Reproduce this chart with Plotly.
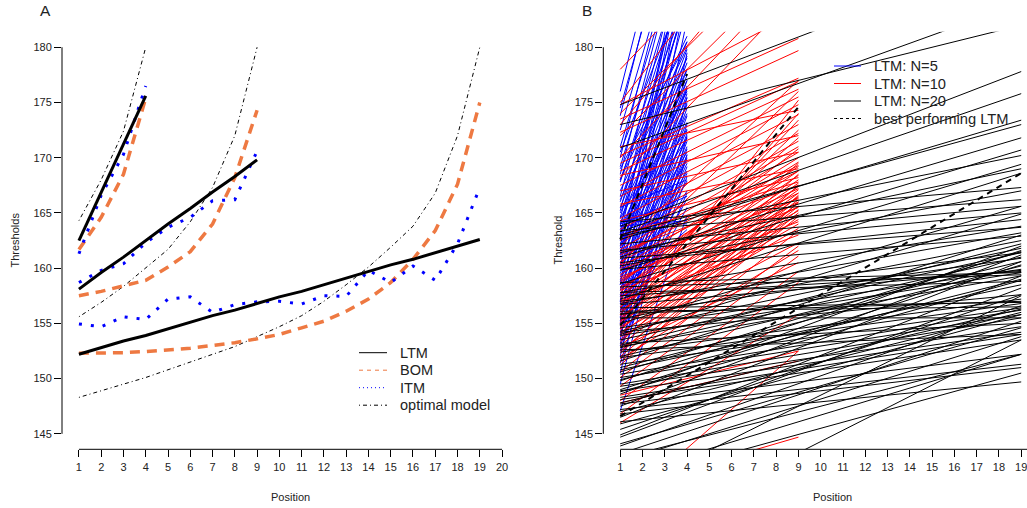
import plotly.graph_objects as go

# ---------------- Panel A data ----------------
pos4 = [1, 2, 3, 4]
pos9 = [1, 2, 3, 4, 5, 6, 7, 8, 9]
pos19 = list(range(1, 20))

ltm4 = [162.5, 166.9, 171.2, 175.6]
bom4 = [161.7, 164.6, 168.5, 175.4]
itm4 = [161.3, 166.6, 170.3, 176.5]
opt4 = [164.3, 168.0, 172.4, 180.0]

ltm9 = [158.1, 159.6, 161.0, 162.5, 164.0, 165.4, 166.9, 168.3, 169.8]
bom9 = [157.5, 157.9, 158.4, 158.9, 160.1, 161.5, 164.0, 168.2, 174.3]
itm9 = [158.7, 159.8, 160.4, 162.3, 163.7, 164.6, 166.1, 166.2, 170.6]
opt9 = [155.6, 156.9, 158.35, 160.0, 161.7, 164.2, 167.3, 172.0, 180.0]

ltm19 = [152.2, 152.8, 153.4, 153.9, 154.5, 155.1, 155.7, 156.2, 156.8, 157.4,
         157.9, 158.5, 159.1, 159.7, 160.3, 160.8, 161.4, 162.0, 162.6]
bom19 = [152.3, 152.3, 152.35, 152.45, 152.6, 152.75, 153.0, 153.25, 153.6, 154.0,
         154.6, 155.2, 156.1, 157.2, 158.7, 160.8, 163.4, 167.6, 175.0]
itm19 = [154.95, 154.7, 155.6, 155.35, 157.2, 157.4, 156.0, 156.7, 156.95, 157.0,
         156.75, 157.5, 157.45, 159.8, 158.7, 160.2, 158.9, 162.2, 167.3]
opt19 = [148.3, 148.9, 149.5, 150.1, 150.8, 151.5, 152.2, 152.9, 153.8, 154.7,
         155.7, 157.0, 158.5, 160.1, 161.9, 163.8, 166.8, 172.0, 180.0]

# ---------------- Panel B data (threshold at first and last position) ----------------
end5, end10, end20 = 4, 9, 19

ltm5_start = [176.0, 174.5, 173.8, 172.5, 171.0, 170.0, 169.2, 168.5, 167.8, 166.5,
              165.2, 164.6, 163.8, 163.0, 162.0, 161.2, 166.0, 170.5, 168.0, 153.5,
              155.2, 157.0, 158.5, 160.0, 165.5, 164.0, 163.0, 162.5, 161.8, 161.0,
              160.2, 159.5, 158.8, 158.0, 157.4, 156.8, 156.0, 155.5, 155.0, 154.5,
              154.0, 153.2, 152.5, 163.5, 162.8, 162.2, 161.5, 160.8, 160.0, 159.2,
              158.5, 157.6, 157.0, 156.2, 155.6, 164.5, 165.0, 166.2, 163.2, 162.0,
              160.5, 159.0, 158.2, 157.2, 156.5, 155.0, 154.2, 153.0, 151.4, 147.1,
              149.5, 150.5, 152.0, 161.5, 164.0, 163.8, 164.3, 165.5, 158.0, 167.0,
              168.0, 169.0]
ltm5_end = [200.0, 196.0, 198.0, 193.0, 191.0, 194.0, 189.0, 192.0, 187.0, 190.0,
            188.0, 184.5, 186.5, 189.0, 185.0, 183.5, 184.0, 186.0, 184.5, 182.5,
            185.0, 188.0, 190.0, 192.0, 180.5, 179.8, 179.2, 178.6, 178.0, 177.5,
            177.0, 176.3, 175.8, 175.0, 174.5, 173.8, 173.0, 172.2, 171.5, 170.8,
            170.0, 169.2, 168.3, 177.0, 176.2, 175.4, 174.8, 174.0, 173.2, 172.5,
            171.8, 171.0, 170.2, 169.5, 168.6, 176.0, 178.0, 179.0, 172.6, 171.8,
            170.5, 169.8, 168.8, 167.9, 167.0, 166.3, 165.5, 166.8, 170.3, 164.8,
            172.0, 175.5, 179.5, 176.5, 166.5, 164.3, 164.0, 168.0, 163.5, 180.0,
            181.0, 180.5]

ltm10_start = [178.0, 175.0, 173.0, 174.8, 174.0, 172.0, 170.0, 168.2, 172.3, 173.5,
               170.2, 169.5, 168.8, 167.5, 166.5, 165.6, 164.5, 163.5, 162.5, 161.7,
               160.9, 160.0, 159.4, 158.8, 158.1, 157.6, 157.0, 156.5, 156.0, 155.5,
               155.0, 154.5, 154.0, 153.5, 153.0, 152.5, 152.0, 151.5, 159.8, 159.0,
               158.3, 157.4, 156.8, 156.2, 155.7, 155.2, 154.7, 154.2, 160.6, 161.2,
               158.6, 157.8, 157.2, 156.4, 155.8, 155.1, 160.4, 162.0, 150.6, 150.1,
               149.3, 148.0, 146.8, 146.0, 148.5, 147.8, 140.0, 138.4, 152.8, 151.8,
               153.8, 157.0, 158.0, 159.2, 160.3, 161.5, 163.0, 164.3, 165.8, 167.0,
               168.4, 171.0, 155.3, 154.4, 153.3, 152.3, 151.2]
ltm10_end = [194.8, 196.0, 192.0, 183.2, 190.0, 188.0, 187.0, 185.0, 179.7, 180.8,
             177.2, 176.9, 176.2, 175.5, 174.8, 173.9, 173.0, 172.2, 171.5, 171.0,
             170.5, 170.0, 169.6, 169.2, 168.8, 168.4, 168.0, 167.7, 167.4, 167.1,
             166.8, 166.5, 166.2, 165.9, 165.6, 165.3, 165.0, 164.7, 167.2, 166.8,
             166.4, 166.0, 165.6, 165.2, 164.8, 164.4, 164.0, 163.6, 168.8, 169.3,
             170.8, 171.8, 172.5, 173.4, 174.0, 175.2, 176.0, 177.0, 163.4, 162.0,
             161.1, 159.7, 158.7, 155.8, 152.5, 151.6, 144.7, 152.5, 160.5, 161.6,
             162.3, 163.0, 164.2, 165.5, 166.3, 167.5, 167.8, 168.2, 169.0, 170.5,
             172.0, 174.3, 169.5, 168.5, 167.5, 166.6, 166.0]

ltm20_start = [174.8, 173.0, 170.9, 163.8, 163.3, 162.6, 163.0, 161.0, 159.8, 158.6,
               157.2, 164.2, 163.4, 162.2, 161.6, 160.5, 157.8, 156.8, 155.4, 154.3,
               153.5, 152.8, 152.0, 158.7, 157.8, 158.3, 157.5, 156.4, 155.5, 156.1,
               155.9, 154.6, 153.9, 152.9, 152.4, 151.9, 151.3, 150.4, 150.1, 149.5,
               149.3, 148.9, 148.3, 148.1, 147.7, 147.2, 146.8, 146.1, 146.5, 147.5,
               148.6, 149.8, 151.0, 144.9, 144.7, 143.9, 143.2, 142.5, 141.2, 135.1,
               139.5, 160.9, 159.9, 160.2, 161.4, 162.9, 155.0, 154.0, 151.6, 150.6,
               149.0, 145.4, 144.1, 147.8, 152.6, 153.2, 156.7, 157.0, 155.8, 154.2,
               150.8, 148.8, 140.5, 142.8, 145.9, 147.0, 149.9, 153.0]
ltm20_end = [188.6, 182.0, 184.0, 177.8, 175.8, 173.4, 173.0, 171.8, 170.7, 169.4,
             168.6, 167.3, 166.2, 165.6, 165.0, 164.4, 163.8, 163.2, 162.5, 161.8,
             161.4, 161.0, 160.6, 159.6, 158.8, 159.4, 159.7, 156.9, 155.5, 156.5,
             157.0, 159.9, 159.6, 159.3, 157.2, 156.8, 156.4, 156.2, 155.8, 155.5,
             154.7, 154.2, 154.0, 153.5, 152.2, 151.3, 151.0, 149.7, 160.6, 161.2,
             162.0, 161.6, 160.2, 159.3, 158.2, 156.6, 155.2, 153.8, 152.2, 153.5,
             157.5, 163.7, 162.9, 167.0, 169.0, 170.2, 165.6, 164.9, 163.0, 161.5,
             160.3, 157.6, 154.6, 156.3, 154.0, 155.0, 159.8, 161.4, 160.9, 157.6,
             158.5, 158.9, 150.5, 152.2, 155.8, 156.0, 159.0, 162.2]

best_pos5, best5 = [1, 4], [162.6, 177.6]
best_pos10, best10 = [1, 9], [154.8, 174.6]
best_pos20, best20 = [1, 19], [146.6, 168.6]

y_ticks = [145, 150, 155, 160, 165, 170, 175, 180]
x_ticks = list(range(1, 21))

legend_a = ["LTM", "BOM", "ITM", "optimal model"]
legend_b = ["LTM: N=5", "LTM: N=10", "LTM: N=20", "best performing LTM"]

# ---------------- styling ----------------
W, H = 1027, 508
FONT = "Liberation Sans, Arial, Helvetica, sans-serif"
ORANGE = "#EE7942"
BLUE = "#0000FF"
RED = "#FF0000"

fig = go.Figure()


def line(x, y, color, width, dash, xa="x", ya="y"):
    fig.add_trace(go.Scatter(x=x, y=y, mode="lines", xaxis=xa, yaxis=ya,
                             line=dict(color=color, width=width, dash=dash),
                             hoverinfo="skip", showlegend=False))


# Panel A
for pos, ltm, bom, itm, opt in [(pos4, ltm4, bom4, itm4, opt4),
                                (pos9, ltm9, bom9, itm9, opt9),
                                (pos19, ltm19, bom19, itm19, opt19)]:
    line(pos, opt, "black", 1, "1px,3px,4px,3px")
    line(pos, bom, ORANGE, 3.5, "10px,7px")
    line(pos, itm, BLUE, 3, "3px,9px")
    line(pos, ltm, "black", 3, "solid")


# Panel B
def segs(starts, ends, last):
    xs, ys = [], []
    for s, e in zip(starts, ends):
        xs += [1, last, None]
        ys += [s, e, None]
    return xs, ys


for st, en, last, col in [(ltm5_start, ltm5_end, end5, BLUE),
                          (ltm10_start, ltm10_end, end10, RED),
                          (ltm20_start, ltm20_end, end20, "black")]:
    xs, ys = segs(st, en, last)
    line(xs, ys, col, 1, "solid", "x2", "y2")

for bp, bv in [(best_pos5, best5), (best_pos10, best10), (best_pos20, best20)]:
    line(bp, bv, "black", 2, "6px,5px", "x2", "y2")

# ---------------- layout ----------------
xA = [62 / W, 519 / W]
xB = [603.3 / W, 1.0]
ydom = [1 - 449.3 / H, 1 - 31.8 / H]
yr = [143.6, 181.4]

ax_common = dict(showgrid=False, zeroline=False, showline=False, ticks="outside",
                 ticklen=7, tickcolor="black", tickwidth=1, ticklabeloverflow="allow",
                 tickfont=dict(family=FONT, size=11, color="#222"), automargin=False)

fig.update_layout(
    width=W, height=H, margin=dict(l=0, r=0, t=0, b=0), autosize=False,
    paper_bgcolor="white", plot_bgcolor="white", showlegend=False,
    font=dict(family=FONT, color="#222"),
    xaxis=dict(domain=xA, range=[0.24, 20.76], tickmode="array", tickvals=x_ticks,
               anchor="y", **ax_common),
    yaxis=dict(domain=ydom, range=yr, tickmode="array", tickvals=y_ticks,
               anchor="x", **ax_common),
    xaxis2=dict(domain=xB, range=[0.24, 19.26], tickmode="array", tickvals=x_ticks,
                anchor="y2", **ax_common),
    yaxis2=dict(domain=ydom, range=yr, tickmode="array", tickvals=y_ticks,
                anchor="x2", **ax_common),
)

shapes = []
for xa, ya, xend in [("x", "y", max(x_ticks)), ("x2", "y2", 19.26)]:
    shapes.append(dict(type="line", xref=xa + " domain", yref=ya, x0=0, x1=0,
                       y0=min(y_ticks), y1=max(y_ticks), line=dict(color="black", width=1)))
    shapes.append(dict(type="line", xref=xa, yref=ya + " domain", x0=min(x_ticks), x1=xend,
                       y0=0, y1=0, line=dict(color="black", width=1)))

annotations = []


def px_x(p):
    return p / W


def px_y(p):
    return 1 - p / H


# Legend A
styles_a = [("black", "solid"), (ORANGE, "4px,4px"), (BLUE, "1px,3px"), ("black", "1px,3px,4px,3px")]
for i, (lab, (c, d)) in enumerate(zip(legend_a, styles_a)):
    yy = 352.7 + 17.5 * i
    shapes.append(dict(type="line", xref="paper", yref="paper", x0=px_x(359), x1=px_x(387),
                       y0=px_y(yy), y1=px_y(yy), line=dict(color=c, width=1, dash=d)))
    annotations.append(dict(text=lab, xref="paper", yref="paper", x=px_x(398), y=px_y(yy),
                            xanchor="left", yanchor="middle", showarrow=False,
                            font=dict(family=FONT, size=14.5, color="#222")))

# Legend B
styles_b = [(BLUE, "solid"), (RED, "solid"), ("black", "solid"), ("black", "3px,3px")]
for i, (lab, (c, d)) in enumerate(zip(legend_b, styles_b)):
    yy = 66 + 17.5 * i
    shapes.append(dict(type="line", xref="paper", yref="paper", x0=px_x(834), x1=px_x(861),
                       y0=px_y(yy), y1=px_y(yy), line=dict(color=c, width=1, dash=d)))
    annotations.append(dict(text=lab, xref="paper", yref="paper", x=px_x(872), y=px_y(yy),
                            xanchor="left", yanchor="middle", showarrow=False,
                            font=dict(family=FONT, size=14.7, color="#222")))

# Panel letters and axis titles
for txt, x in [("A", 45), ("B", 587)]:
    annotations.append(dict(text=txt, xref="paper", yref="paper", x=px_x(x), y=px_y(11),
                            xanchor="center", yanchor="middle", showarrow=False,
                            font=dict(family=FONT, size=15.5, color="#222")))
for txt, x in [("Position", 290.5), ("Position", 832)]:
    annotations.append(dict(text=txt, xref="paper", yref="paper", x=px_x(x), y=px_y(497),
                            xanchor="center", yanchor="middle", showarrow=False,
                            font=dict(family=FONT, size=11, color="#222")))
for txt, x in [("Thresholds", 14), ("Threshold", 557)]:
    annotations.append(dict(text=txt, xref="paper", yref="paper", x=px_x(x), y=px_y(240.5),
                            xanchor="center", yanchor="middle", showarrow=False, textangle=-90,
                            font=dict(family=FONT, size=11, color="#222")))

fig.update_layout(shapes=shapes, annotations=annotations)
fig.write_html("out.html")
